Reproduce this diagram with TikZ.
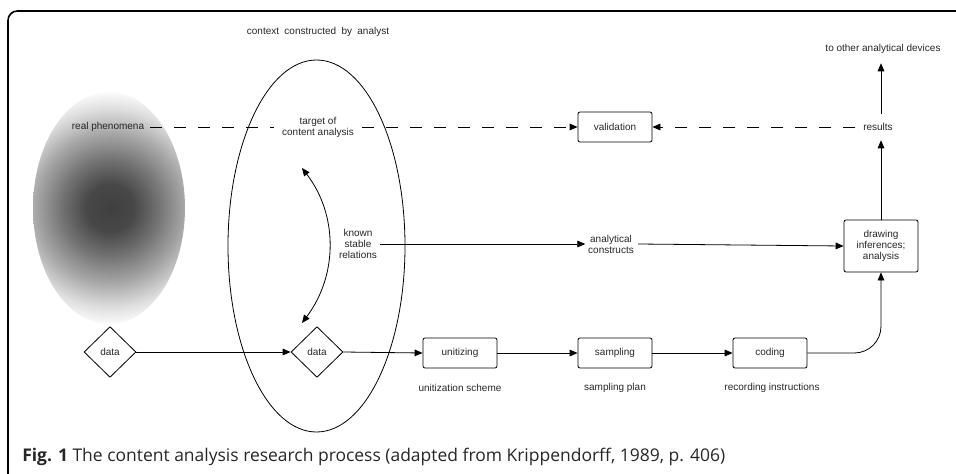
\documentclass[tikz,border=0pt]{standalone}
\usepackage{fontspec}
\setmainfont{Liberation Sans}
\newfontfamily\capfont{Open Sans}
\usetikzlibrary{arrows.meta,shapes.geometric}
\pgfdeclareradialshading{phen}{\pgfpoint{0bp}{0bp}}{color(0bp)=(black!75); color(5bp)=(black!72); color(10bp)=(black!56); color(16bp)=(black!34); color(21bp)=(black!13); color(25bp)=(white); color(50bp)=(white)}
\begin{document}
\begin{tikzpicture}[x=0.75pt,y=-0.75pt,
  every node/.style={font=\fontsize{7.5}{8.25}\selectfont, inner sep=0pt, align=center, text=black!85},
  box/.style={draw, rounded corners=1.5pt, minimum width=55.5pt, minimum height=22.5pt, line width=0.6pt},
  dia/.style={draw, diamond, minimum width=39pt, minimum height=38pt, line width=0.6pt},
  tip/.tip={Triangle[length=6pt,width=5pt]},
  conn/.style={line width=0.6pt, -tip},
  dbl/.style={line width=0.6pt, tip-tip},
  dline/.style={line width=0.6pt, dash pattern=on 9pt off 9pt},
  dconn/.style={dline, -tip}]
\useasboundingbox (0,0) rectangle (956,474);
\clip (0,0) rectangle (956,474);
% frame
\draw[line width=1.2pt, rounded corners=7pt] (8,490) -- (8,11) -- (975,11);
% gray ellipse
\begin{scope}
  \clip (109,208) ellipse (76 and 116);
  \shade[shading=phen] (110,208) ellipse (118 and 118);
\end{scope}
% big ellipse
\draw[line width=0.6pt] (316.5,246) ellipse (88.5 and 186);
% nodes
\node (ctx) at (318,32) {context\hspace{4pt}constructed\hspace{4pt}by\hspace{4pt}analyst};
\node (real) at (108,127) {real phenomena};
\node (tgt) at (318,127) {target of\\content analysis};
\node[box] (val) at (615,127) {validation};
\node (res) at (878,127) {results};
\node (other) at (883,49) {to other analytical devices};
\node (known) at (358,244) {known\\stable\\relations};
\node (ac) at (611,244) {analytical\\constructs};
\node[box, minimum height=39pt] (drw) at (881,246) {drawing\\inferences;\\analysis};
\node[dia] (d1) at (110,352) {data};
\node[dia] (d2) at (317,352) {data};
\node[box] (unit) at (460,353) {unitizing};
\node[box] (samp) at (615,353) {sampling};
\node[box] (cod) at (770,353) {coding};
\node (ul) at (460,388) {unitization scheme};
\node (sl) at (615,388) {sampling plan};
\node (cl) at (772,388) {recording instructions};
\coordinate (ta) at (302,168);
\coordinate (tb) at (302,323);
% connectors
\draw[dline] ([xshift=4.5pt]real.east) -- ([xshift=-6pt]tgt.west);
\draw[dconn] ([xshift=6pt]tgt.east) -- (val.west);
\draw[dconn] ([xshift=-6pt]res.west) -- (val.east);
\draw[conn] ([yshift=7pt]res.north -| drw.north) -- ([yshift=-7pt]other.south -| drw.north);
\draw[conn] (drw.north) -- ([yshift=-7pt]res.south -| drw.north);
\draw[line width=0.6pt, -tip] ([xshift=2pt]known.east) -- ([xshift=-2pt]ac.west);
\draw[conn] ([xshift=3pt]ac.east) -- (drw.west);
\draw[dbl] (ta) .. controls (338,215) and (338,275) .. (tb);
\draw[conn] (d1.east) -- (d2.west);
\draw[conn] (d2.east) -- (unit.west);
\draw[conn] (unit.east) -- (samp.west);
\draw[conn] (samp.east) -- (cod.west);
\draw[conn, rounded corners=20pt] (cod.east) -| (drw.south);
% caption
\node[anchor=west, font=\capfont\fontsize{13.1}{15}\selectfont, text=black!85] (cap) at (22,457) {\textbf{Fig. 1} The content analysis research process (adapted from Krippendorff, 1989, p. 406)};
\end{tikzpicture}
\end{document}
